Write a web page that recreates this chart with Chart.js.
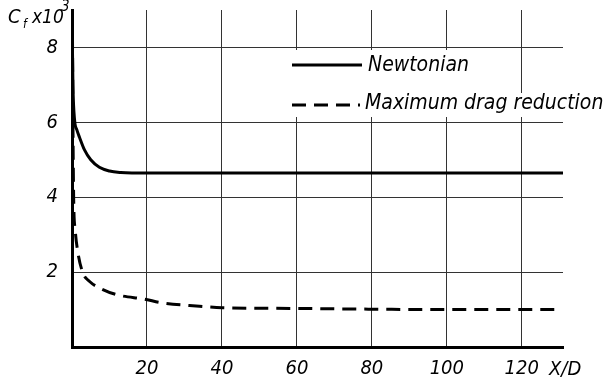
<!DOCTYPE html>
<html>
<head>
<meta charset="utf-8">
<script src="https://cdn.jsdelivr.net/npm/chart.js@4"></script>
<style>
  html, body { margin: 0; padding: 0; background: #fff; }
  #wrap { width: 607px; height: 383px; position: relative; }
</style>
</head>
<body>
<div id="wrap"><canvas id="chart"></canvas></div>
<script>
// values
const newtX = [0, 0.25, 0.7, 1.3, 2, 3.3, 5, 7.3, 10, 13, 16, 131];
const newtY = [8.9, 7.0, 6.05, 5.8, 5.6, 5.27, 5.0, 4.8, 4.7, 4.66, 4.65, 4.65];
const mdrX = [0.1, 0.25, 0.45, 0.85, 1.6, 2.9, 4.7, 7.3, 11.8, 19.8, 23.3, 34, 40, 60, 80, 100, 129.5];
const mdrY = [8.9, 6.0, 3.93, 3.13, 2.51, 1.98, 1.75, 1.58, 1.4, 1.27, 1.19, 1.09, 1.05, 1.03, 1.01, 1.0, 1.0];
const xTicks = [20, 40, 60, 80, 100, 120];
const yTicks = [2, 4, 6, 8];
const seriesNames = ['Newtonian', 'Maximum drag reduction'];

const tickFont = { family: "'Liberation Sans Narrow', 'DejaVu Sans Condensed', sans-serif", size: 20, style: 'italic' };
const textFont = "italic 21px 'DejaVu Sans Condensed', 'Liberation Sans Narrow', sans-serif";
const capFont = "'Liberation Sans Narrow', 'DejaVu Sans Condensed', sans-serif";

function toPoints(xs, ys) {
    return xs.map((x, i) => ({ x: x, y: ys[i] }));
}

// legend + axis captions drawn on top of the plot
const annotations = {
    id: 'annotations',
    afterDraw(chart) {
        const ctx = chart.ctx;
        ctx.save();
        // white patch behind the legend hides the grid
        ctx.fillStyle = '#fff';
        ctx.fillRect(286, 50, 226, 67);
        ctx.fillRect(360, 93, 247, 24);

        ctx.strokeStyle = '#000';
        ctx.lineWidth = 3;
        ctx.beginPath();
        ctx.moveTo(292, 65);
        ctx.lineTo(362, 65);
        ctx.stroke();
        ctx.setLineDash([14, 8]);
        ctx.beginPath();
        ctx.moveTo(292, 105);
        ctx.lineTo(360, 105);
        ctx.stroke();
        ctx.setLineDash([]);

        ctx.fillStyle = '#000';
        ctx.font = textFont;
        ctx.textBaseline = 'middle';
        ctx.textAlign = 'left';
        ctx.fillText(seriesNames[0], 368, 66);
        ctx.fillText(seriesNames[1], 365, 104);

        // x axis caption
        ctx.font = 'italic 20px ' + capFont;
        ctx.fillText('X/D', 549, 370);

        // y axis caption C_f x 10^3
        ctx.font = 'italic 20px ' + capFont;
        ctx.fillText('C', 8, 18);
        ctx.font = 'italic 12px ' + capFont;
        ctx.fillText('f', 23, 25);
        ctx.font = 'italic 19px ' + capFont;
        ctx.fillText('x10', 32, 18);
        ctx.font = 'italic 15px ' + capFont;
        ctx.fillText('3', 61, 7);
        ctx.restore();
    }
};

new Chart(document.getElementById('chart'), {
    type: 'scatter',
    data: {
        datasets: [{
            label: seriesNames[0],
            data: toPoints(newtX, newtY),
            showLine: true,
            borderColor: '#000',
            borderWidth: 3,
            pointRadius: 0,
            cubicInterpolationMode: 'monotone'
        }, {
            label: seriesNames[1],
            data: toPoints(mdrX, mdrY),
            showLine: true,
            borderColor: '#000',
            borderWidth: 3,
            borderDash: [14, 8],
            pointRadius: 0,
            cubicInterpolationMode: 'monotone'
        }]
    },
    options: {
        responsive: true,
        maintainAspectRatio: false,
        animation: false,
        layout: { padding: { top: 10, right: 44, left: 0, bottom: 0 } },
        plugins: {
            legend: { display: false },
            tooltip: { enabled: false }
        },
        scales: {
            x: {
                type: 'linear',
                min: 0,
                max: 131,
                afterFit: (s) => { s.height = 36; s.paddingLeft = 0; s.paddingRight = 0; },
                afterBuildTicks: (s) => { s.ticks = xTicks.map(v => ({ value: v })); },
                grid: { color: '#333', lineWidth: 1, drawTicks: false },
                border: { display: true, color: '#000', width: 3 },
                ticks: { color: '#000', font: tickFont, padding: 10, maxRotation: 0 }
            },
            y: {
                min: 0,
                max: 9,
                afterFit: (s) => { s.width = 72; s.paddingTop = 0; s.paddingBottom = 0; },
                afterBuildTicks: (s) => { s.ticks = yTicks.map(v => ({ value: v })); },
                grid: { color: '#333', lineWidth: 1, drawTicks: false },
                border: { display: true, color: '#000', width: 3 },
                ticks: { color: '#000', font: tickFont, padding: 14 }
            }
        }
    },
    plugins: [annotations]
});
</script>
</body>
</html>
